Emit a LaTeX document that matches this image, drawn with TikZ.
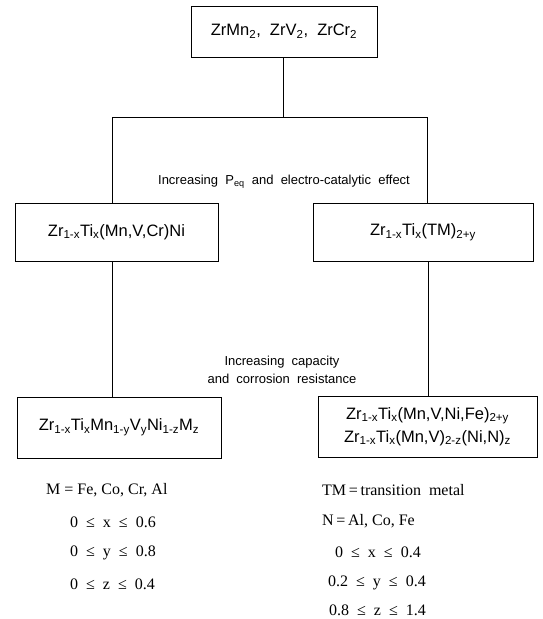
\documentclass[tikz,border=0pt]{standalone}
\usepackage{fontspec}
\setmainfont{Liberation Serif}
\setsansfont{Liberation Sans}
\newcommand{\sbs}[1]{\textsubscript{#1}}
\tikzset{
  box/.style={draw, line width=0.7pt, inner sep=0pt, align=center, font=\sffamily\fontsize{16.5}{23}\selectfont},
  note/.style={inner sep=0pt, font=\sffamily\fontsize{13}{18}\selectfont, align=center},
  cond/.style={inner sep=0pt, anchor=west, font=\rmfamily\fontsize{16}{18}\selectfont},
  link/.style={line width=0.7pt}
}
\begin{document}
\begin{tikzpicture}[x=1pt,y=-1pt]
\path[use as bounding box] (0,0) rectangle (542,619);
\node[box, minimum width=186pt, minimum height=51pt] (top) at (284,31.5) {ZrMn\sbs{2},\ \ ZrV\sbs{2},\ \ ZrCr\sbs{2}};
\node[box, minimum width=203pt, minimum height=58pt] (b1) at (116.5,232) {Zr\sbs{1-x}Ti\sbs{x}(Mn,V,Cr)Ni};
\node[box, minimum width=220pt, minimum height=58pt] (b2) at (423,232) {Zr\sbs{1-x}Ti\sbs{x}(TM)\sbs{2+y}};
\node[box, minimum width=204pt, minimum height=61pt] (b3) at (119,427.5) {Zr\sbs{1-x}Ti\sbs{x}Mn\sbs{1-y}V\sbs{y}Ni\sbs{1-z}M\sbs{z}};
\node[box, minimum width=219pt, minimum height=61pt] (b4) at (427.5,426.5) {Zr\sbs{1-x}Ti\sbs{x}(Mn,V,Ni,Fe)\sbs{2+y}\\Zr\sbs{1-x}Ti\sbs{x}(Mn,V)\sbs{2-z}(Ni,N)\sbs{z}};
\coordinate (hj) at (283,117);
\coordinate (hl) at (112,117);
\coordinate (hr) at (427,117);
\coordinate (ml) at (112,300);
\coordinate (mr) at (428,300);
\draw[link] (top.south -| hj) -- (hj);
\draw[link] (hl) -- (hr);
\draw[link] (hl) -- (hl |- b1.north);
\draw[link] (hr) -- (hr |- b2.north);
\draw[link] (ml |- b1.south) -- (ml |- b3.north);
\draw[link] (mr |- b2.south) -- (mr |- b4.north);
\node[note] (n1) at (284,182) {Increasing\ \ P\sbs{eq}\ \ and\ \ electro-catalytic\ \ effect};
\node[note] (n2) at (282,370) {Increasing\ \ capacity\\and\ \ corrosion\ \ resistance};
\node[cond] (l1) at (46,490) {M\ =\ Fe,\ Co,\ Cr,\ Al};
\node[cond] (l2) at (70,522) {0\ \ ≤\ \ x\ \ ≤\ \ 0.6};
\node[cond] (l3) at (70,553) {0\ \ ≤\ \ y\ \ ≤\ \ 0.8};
\node[cond] (l4) at (70,584) {0\ \ ≤\ \ z\ \ ≤\ \ 0.4};
\node[cond] (r1) at (322,490) {TM\,=\,transition\ \ metal};
\node[cond] (r2) at (322,521) {N\,=\,Al,\ Co,\ Fe};
\node[cond] (r3) at (335,552) {0\ \ ≤\ \ x\ \ ≤\ \ 0.4};
\node[cond] (r4) at (328,583) {0.2\ \ ≤\ \ y\ \ ≤\ \ 0.4};
\node[cond] (r5) at (329,610) {0.8\ \ ≤\ \ z\ \ ≤\ \ 1.4};
\end{tikzpicture}
\end{document}
